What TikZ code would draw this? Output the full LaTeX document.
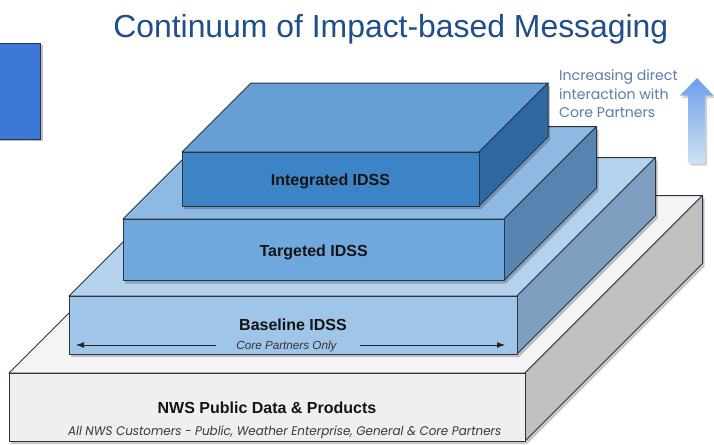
\documentclass[tikz,border=0pt]{standalone}
\usepackage{fontspec}
\setmainfont{Liberation Sans}
\newfontfamily\popfont{Poppins}[ItalicFeatures={FakeStretch=0.955}]
\usetikzlibrary{arrows.meta}
\definecolor{titleblue}{HTML}{1F4E8C}
\definecolor{incblue}{HTML}{5A7CAE}
\definecolor{edgecol}{HTML}{2B3440}
\definecolor{intF}{HTML}{3D84C6}\definecolor{intT}{HTML}{659FD3}\definecolor{intS}{HTML}{2F69A1}
\definecolor{tarF}{HTML}{6FA8DC}\definecolor{tarT}{HTML}{8DB9E3}\definecolor{tarS}{HTML}{5684B0}
\definecolor{basF}{HTML}{9FC5E8}\definecolor{basT}{HTML}{B4D2EE}\definecolor{basS}{HTML}{7E9FBF}
\definecolor{nwsF}{HTML}{EFEFEF}\definecolor{nwsT}{HTML}{F4F4F4}\definecolor{nwsS}{HTML}{C0C0C0}
\definecolor{leftblue}{HTML}{3C78D8}
\definecolor{arrTop}{HTML}{6D9EEB}
\definecolor{arrBot}{HTML}{CFE2F3}
% #1 x-left, #2 x-right, #3 y-top, #4 y-bottom, #5 depth, #6 front, #7 top, #8 side
\newcommand\drawslab[8]{%
  \fill[black, opacity=0.22] (#1+2,#3+3) -- (#1+#5+2,#3-#5+3) -- (#2+#5+2,#3-#5+3) -- (#2+#5+2,#4-#5+3) -- (#2+2,#4+3) -- (#1+2,#4+3) -- cycle;
  \filldraw[edge, fill=#7] (#1,#3) -- (#1+#5,#3-#5) -- (#2+#5,#3-#5) -- (#2,#3) -- cycle;
  \filldraw[edge, fill=#8] (#2,#3) -- (#2+#5,#3-#5) -- (#2+#5,#4-#5) -- (#2,#4) -- cycle;
  \filldraw[edge, fill=#6] (#1,#3) rectangle (#2,#4);
}
\tikzset{
  edge/.style={draw=edgecol, line width=1pt, line join=round},
  lab/.style={font=\bfseries\fontsize{16}{18}\selectfont, text=black!92, anchor=base, inner sep=0pt},
  inc/.style={font=\popfont\fontsize{14.1}{18}\selectfont, text=incblue, anchor=base west, inner sep=0pt},
  arr/.style={-{Latex[length=8pt,width=6pt]}, line width=0.8pt, draw=black!85},
}
\begin{document}
\begin{tikzpicture}[x=1pt,y=-1pt]
\useasboundingbox (0,0) rectangle (714,444);
\fill[white] (0,0) rectangle (714,444);
% left blue rectangle
\fill[black, opacity=0.25] (0,45) rectangle (42.5,141);
\filldraw[fill=leftblue, draw=edgecol, line width=0.8pt] (-1,43) rectangle (40.7,139.3);
% title
\node[font=\fontsize{31.9}{36}\selectfont, text=titleblue, anchor=base east, inner sep=0pt] (title) at (668.5,37.7) {Continuum of Impact-based Messaging};
% slabs
\drawslab{9}{525}{373}{441}{177.5}{nwsF}{nwsT}{nwsS}
\drawslab{69}{517}{296}{354}{138.5}{basF}{basT}{basS}
\drawslab{123}{504}{219}{280.5}{92.5}{tarF}{tarT}{tarS}
\drawslab{182}{479}{152}{206}{69}{intF}{intT}{intS}
% labels
\node[lab] (integ) at (330.5,185.7) {Integrated IDSS};
\node[lab] (target) at (313.7,256) {Targeted IDSS};
\node[lab] (basel) at (293,330) {Baseline IDSS};
\node[lab] (nws) at (267,413.3) {NWS Public Data \& Products};
\node[font=\itshape\fontsize{11.7}{13}\selectfont, text=black!80, anchor=base, inner sep=0pt] (cpo) at (286.5,349) {Core Partners Only};
\node[font=\popfont\itshape\fontsize{12.5}{14}\selectfont, text=black!78, anchor=base, inner sep=0pt] (allnws) at (284.7,435) {All NWS Customers - Public, Weather Enterprise, General \& Core Partners};
% core partners arrows
\coordinate (cpoLa) at (216,345);
\coordinate (cpoLb) at (76,345);
\coordinate (cpoRa) at (360,345);
\coordinate (cpoRb) at (505,345);
\draw[arr] (cpoLa) -- (cpoLb);
\draw[arr] (cpoRa) -- (cpoRb);
% right text
\node[inc] (inc1) at (559,81) {Increasing direct};
\node[inc] (inc2) at (559,99.2) {interaction with};
\node[inc] (inc3) at (559,117.4) {Core Partners};
% gradient arrow
\fill[black, opacity=0.18] (698,80) -- (715,98) -- (707,98) -- (707,165.5) -- (690,165.5) -- (690,98) -- (682,98) -- cycle;
\shade[top color=arrTop, bottom color=arrBot] (697,78) -- (713.5,95.5) -- (705,95.5) -- (705,163.3) -- (688,163.3) -- (688,95.5) -- (680,95.5) -- cycle;
\end{tikzpicture}
\end{document}
